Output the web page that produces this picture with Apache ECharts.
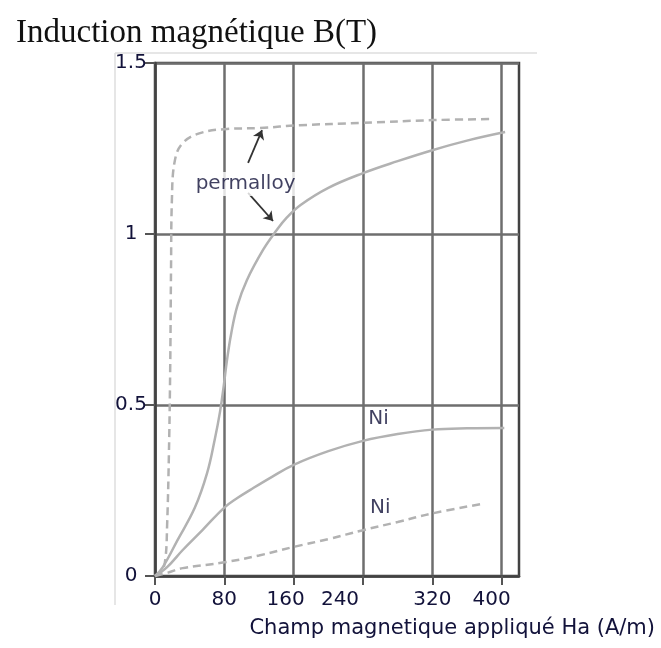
<!DOCTYPE html>
<html>
<head>
<meta charset="utf-8">
<script src="https://cdn.jsdelivr.net/npm/echarts@6/dist/echarts.min.js"></script>
<style>
  html, body { margin: 0; padding: 0; background: #fff; }
  #chart { width: 661px; height: 648px; }
</style>
</head>
<body>
<div id="chart"></div>
<script>
// Axis ticks
const xTicks = [0, 80, 160, 240, 320, 400];
const yTicks = [0, 0.5, 1, 1.5];

// Magnetisation curves B(H): [H (A/m), B (T)]
const permalloyDashed = [
  [0, 0], [8, 0.015], [12, 0.05], [14, 0.15], [16, 0.35], [17.5, 0.6], [18.5, 0.9],
  [19.5, 1.1], [23, 1.216], [32, 1.266], [52, 1.295], [83, 1.307], [121, 1.31],
  [167, 1.318], [240, 1.325], [320, 1.333], [389, 1.336]
];
const permalloySolid = [
  [0, 0], [9, 0.026], [26, 0.105], [46, 0.2], [60, 0.3], [69, 0.4], [75, 0.48],
  [79, 0.55], [83, 0.63], [88, 0.71], [95, 0.79], [106, 0.865], [125, 0.955],
  [140, 1.01], [152, 1.048], [168, 1.085], [200, 1.135], [240, 1.178], [280, 1.213],
  [320, 1.245], [360, 1.273], [404, 1.298]
];
const niSolid = [
  [0, 0], [14, 0.026], [32, 0.076], [55, 0.135], [80, 0.2], [95, 0.228], [110, 0.252],
  [135, 0.29], [160, 0.325], [200, 0.365], [240, 0.395], [280, 0.415], [320, 0.428],
  [360, 0.432], [403, 0.433]
];
const niDashed = [
  [0, 0], [15, 0.01], [32, 0.023], [80, 0.04], [120, 0.06], [160, 0.085], [200, 0.108],
  [240, 0.134], [280, 0.158], [320, 0.183], [380, 0.212]
];

// Curve annotations
const noteTexts = ['permalloy', 'Ni', 'Ni'];
const noteH = [104.5, 258, 260];
const noteB = [1.146, 0.459, 0.2];

// Arrows from the "permalloy" note to both curves
const arrowFrom = [[107.4, 1.208], [107.4, 1.12]];
const arrowTo = [[123.5, 1.304], [136.2, 1.038]];

// Tick-label nudges (px, to the left)
const xLabelShift = { 160: 8, 240: 23, 400: 10 };

const TEXT = '#12123a';
const SANS = '"DejaVu Sans", sans-serif';
const GRID_C = '#6e6e6e';
const CURVE_C = '#b2b2b2';

const labelRich = { n: { fontSize: 20, fontFamily: SANS, color: TEXT } };
Object.keys(xLabelShift).forEach(k => {
  labelRich['s' + k] = { fontSize: 20, fontFamily: SANS, color: TEXT, padding: [0, 2 * xLabelShift[k], 0, 0] };
});

const curve = (name, data, dashed) => ({
  name, type: 'line', data, symbol: 'none', smooth: 0.4,
  lineStyle: { color: CURVE_C, width: 2.5, type: dashed ? [8, 5] : 'solid' },
  z: 3
});

const chart = echarts.init(document.getElementById('chart'), null, { renderer: 'canvas' });
chart.setOption({
  animation: false,
  backgroundColor: '#fff',
  title: {
    text: 'Induction magnétique B(T)',
    left: 11, top: 12,
    textStyle: { fontFamily: '"Liberation Serif", serif', fontSize: 33, fontWeight: 'normal', color: '#111' }
  },
  grid: {
    left: 155, right: 142, top: 63, bottom: 72,
    show: true, borderColor: '#424242', borderWidth: 2.5, backgroundColor: 'transparent'
  },
  xAxis: {
    type: 'value', min: 0, max: 420, interval: 80,
    axisLine: { show: true, lineStyle: { color: '#424242', width: 2.5 } },
    axisTick: { show: true, length: 9, customValues: xTicks, lineStyle: { color: '#555', width: 2 } },
    axisLabel: {
      customValues: xTicks, margin: 14, fontSize: 20, fontFamily: SANS, color: TEXT,
      formatter: v => (xLabelShift[v] ? `{s${v}|${v}}` : `{n|${v}}`),
      rich: labelRich
    },
    splitLine: { show: true, lineStyle: { color: GRID_C, width: 2.5 } }
  },
  yAxis: {
    type: 'value', min: 0, max: 1.5, interval: 0.5,
    axisLine: { show: true, lineStyle: { color: '#424242', width: 2.5 } },
    axisTick: { show: true, length: 10, customValues: yTicks, lineStyle: { color: '#555', width: 2 } },
    axisLabel: {
      customValues: yTicks, margin: 24, align: 'center', fontSize: 20, fontFamily: SANS, color: TEXT,
      formatter: v => String(v)
    },
    splitLine: { show: true, lineStyle: { color: GRID_C, width: 2.5 } }
  },
  graphic: [
    { type: 'line', shape: { x1: 115, y1: 53, x2: 537, y2: 53 }, style: { stroke: '#dedede', lineWidth: 1.5 }, silent: true },
    { type: 'line', shape: { x1: 115, y1: 53, x2: 115, y2: 605 }, style: { stroke: '#dedede', lineWidth: 1.5 }, silent: true },
    {
      type: 'text', right: 6, top: 618,
      style: { text: 'Champ magnetique appliqué Ha (A/m)', font: '21px "DejaVu Sans", sans-serif', fill: TEXT }
    }
  ],
  series: [
    curve('permalloy-a', permalloyDashed, true),
    curve('permalloy-b', permalloySolid, false),
    curve('Ni-a', niSolid, false),
    curve('Ni-b', niDashed, true),
    {
      name: 'notes', type: 'scatter', symbolSize: 0, z: 5,
      data: noteTexts.map((t, i) => ({
        name: t, value: [noteH[i], noteB[i]],
        label: i === 0 ? { backgroundColor: '#fff', padding: [2, 1] } : {}
      })),
      label: {
        show: true, position: 'inside', formatter: '{b}',
        fontSize: 20, fontFamily: SANS, color: TEXT
      },
      markLine: {
        silent: true, symbol: ['none', 'arrow'], symbolSize: 9,
        lineStyle: { color: '#333', width: 1.8, type: 'solid' },
        label: { show: false },
        data: arrowFrom.map((p, i) => [{ coord: p }, { coord: arrowTo[i] }])
      }
    }
  ]
});
</script>
</body>
</html>
